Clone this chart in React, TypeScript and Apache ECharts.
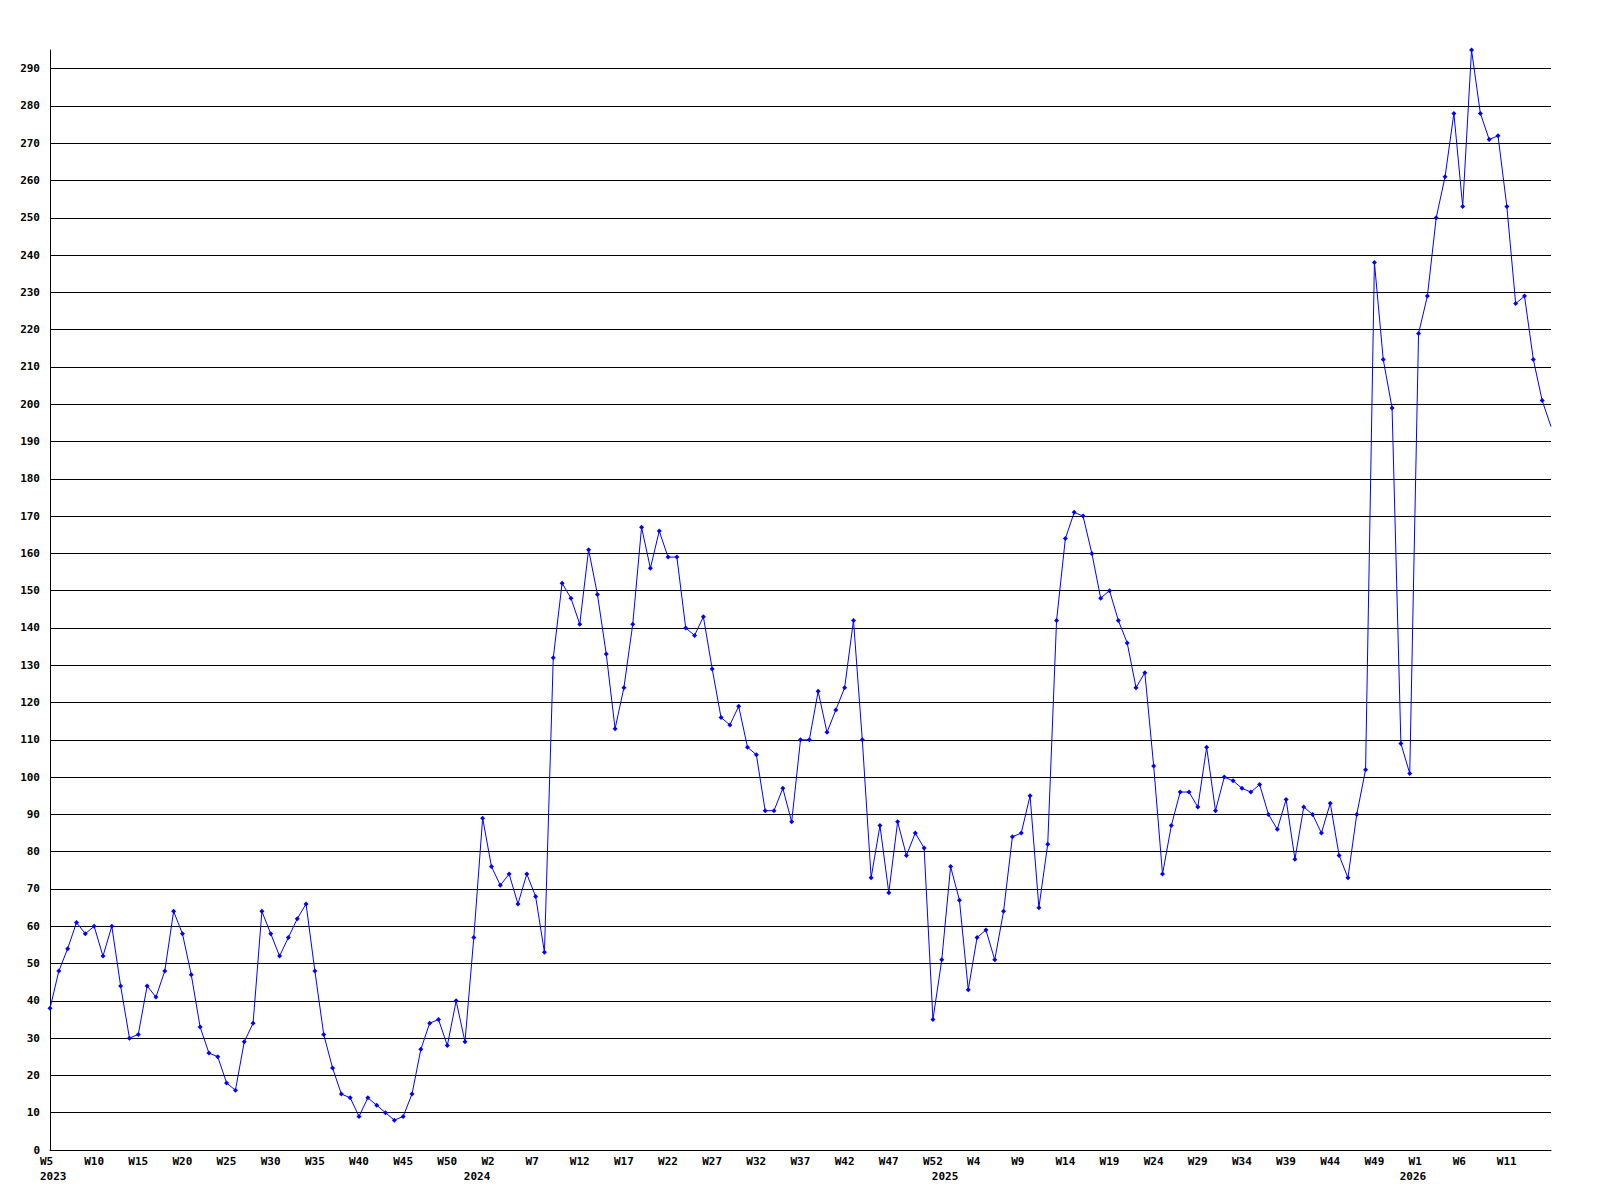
import React, { useEffect, useRef } from "react";
import * as echarts from "echarts";

const values: number[] = [
  38, 48, 54, 61, 58, 60, 52, 60, 44, 30,
  31, 44, 41, 48, 64, 58, 47, 33, 26, 25,
  18, 16, 29, 34, 64, 58, 52, 57, 62, 66,
  48, 31, 22, 15, 14, 9, 14, 12, 10, 8,
  9, 15, 27, 34, 35, 28, 40, 29, 57, 89,
  76, 71, 74, 66, 74, 68, 53, 132, 152, 148,
  141, 161, 149, 133, 113, 124, 141, 167, 156, 166,
  159, 159, 140, 138, 143, 129, 116, 114, 119, 108,
  106, 91, 91, 97, 88, 110, 110, 123, 112, 118,
  124, 142, 110, 73, 87, 69, 88, 79, 85, 81,
  35, 51, 76, 67, 43, 57, 59, 51, 64, 84,
  85, 95, 65, 82, 142, 164, 171, 170, 160, 148,
  150, 142, 136, 124, 128, 103, 74, 87, 96, 96,
  92, 108, 91, 100, 99, 97, 96, 98, 90, 86,
  94, 78, 92, 90, 85, 93, 79, 73, 90, 102,
  238, 212, 199, 109, 101, 219, 229, 250, 261, 278,
  253, 295, 278, 271, 272, 253, 227, 229, 212, 201,
  194,
];

// one week label every 5 points, starting at the first point
const weekTickLabels: string[] = [
  "W5", "W10", "W15", "W20", "W25", "W30", "W35", "W40", "W45", "W50",
  "W2", "W7", "W12", "W17", "W22", "W27", "W32", "W37", "W42", "W47", "W52",
  "W4", "W9", "W14", "W19", "W24", "W29", "W34", "W39", "W44", "W49",
  "W1", "W6", "W11",
];
const yearLabels: string[] = ["2023", "2024", "2025", "2026"];
const yearIndexes: number[] = [0, 48, 101, 154];

const FONT = "'DejaVu Sans Mono', monospace";

export default function App() {
  const ref = useRef<HTMLDivElement>(null);
  useEffect(() => {
    if (!ref.current) return;
    const chart = echarts.init(ref.current, undefined, { renderer: "svg" });
    const categories = values.map((_, i) => String(i));
    const seriesData = values.map((v, i) =>
      i === values.length - 1 ? { value: v, symbol: "none" } : v
    );
    chart.setOption({
      animation: false,
      backgroundColor: "#ffffff",
      grid: { left: 50, right: 49, top: 50, bottom: 50, containLabel: false },
      xAxis: [
        {
          type: "category",
          data: categories,
          boundaryGap: false,
          axisLine: { show: true, lineStyle: { color: "#000", width: 1 } },
          axisTick: { show: false },
          splitLine: { show: false },
          axisLabel: {
            interval: 4,
            margin: 6,
            align: "left",
            padding: [0, 0, 0, -10],
            color: "#000",
            fontFamily: FONT,
            fontWeight: "bold",
            fontSize: 11,
            formatter: (_v: string, idx: number) =>
              idx % 5 === 0 ? weekTickLabels[idx / 5] ?? "" : "",
          },
        },
        {
          type: "category",
          data: categories,
          boundaryGap: false,
          position: "bottom",
          axisLine: { show: false },
          axisTick: { show: false },
          splitLine: { show: false },
          axisLabel: {
            interval: (idx: number) => yearIndexes.includes(idx),
            margin: 21,
            align: "left",
            padding: [0, 0, 0, -10],
            color: "#000",
            fontFamily: FONT,
            fontWeight: "bold",
            fontSize: 11,
            formatter: (_v: string, idx: number) => {
              const k = yearIndexes.indexOf(idx);
              return k >= 0 ? yearLabels[k] : "";
            },
          },
        },
      ],
      yAxis: {
        type: "value",
        min: 0,
        max: 295,
        interval: 10,
        axisLine: { show: true, lineStyle: { color: "#000", width: 1 } },
        axisTick: { show: false },
        splitLine: {
          show: true,
          showMaxLine: false,
          lineStyle: { color: "#000", width: 1 },
        },
        axisLabel: {
          margin: 10,
          showMaxLabel: false,
          color: "#000",
          fontFamily: FONT,
          fontWeight: "bold",
          fontSize: 11,
        },
      },
      series: [
        {
          type: "line",
          data: seriesData,
          xAxisIndex: 0,
          symbol: "diamond",
          symbolSize: 5,
          showAllSymbol: true,
          lineStyle: { color: "#0000ff", width: 1 },
          itemStyle: { color: "#0000ff" },
          clip: true,
        },
      ],
    });
    return () => chart.dispose();
  }, []);
  return (
    <div
      ref={ref}
      style={{ position: "fixed", left: 0, top: 0, width: 1600, height: 1200, background: "#fff" }}
    />
  );
}
